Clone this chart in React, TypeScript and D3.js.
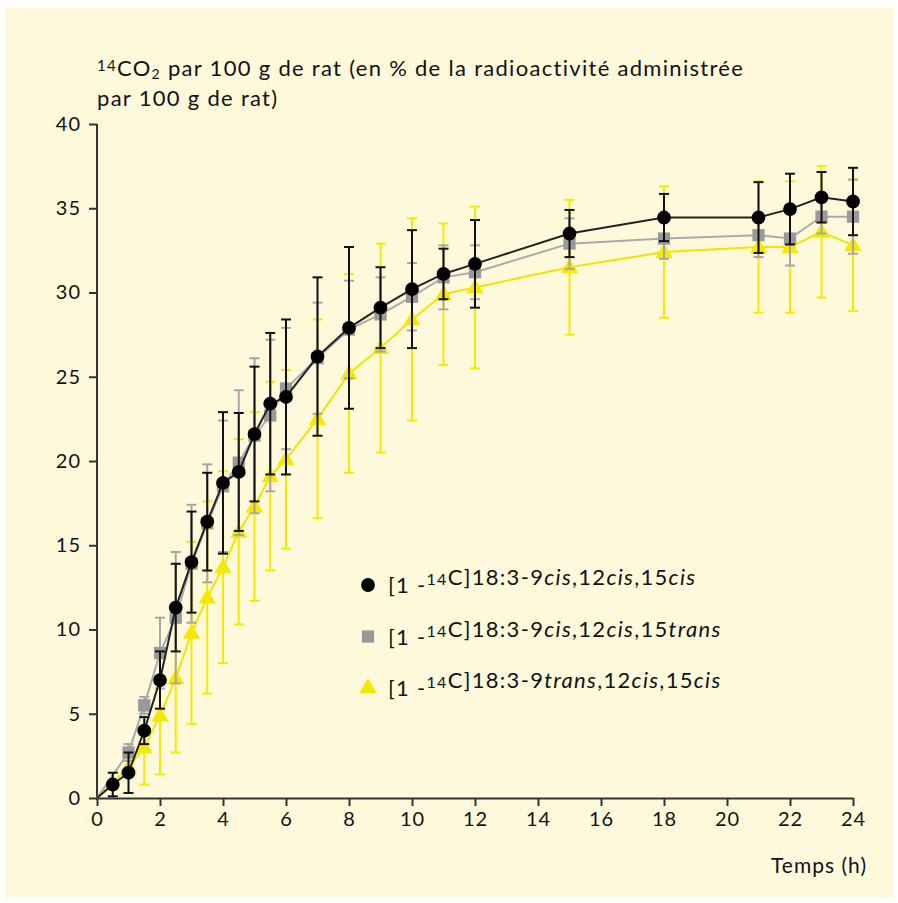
import React, { useEffect, useRef } from "react";
import * as d3 from "d3";

// temps (h) et moyennes / écarts
const timesCis = [0.5, 1, 1.5, 2, 2.5, 3, 3.5, 4, 4.5, 5, 5.5, 6, 7, 8, 9, 10, 11, 12, 15, 18, 21, 22, 23, 24];
const meanCis = [0.8, 1.5, 4.0, 7.0, 11.3, 14.0, 16.4, 18.7, 19.35, 21.6, 23.4, 23.8, 26.2, 27.9, 29.1, 30.2, 31.1, 31.7, 33.5, 34.45, 34.45, 34.95, 35.65, 35.4];
const errCis = [0.7, 1.2, 0.8, 1.7, 2.6, 3.0, 2.9, 4.2, 3.5, 4.0, 4.2, 4.6, 4.7, 4.8, 2.4, 3.5, 1.5, 2.6, 1.4, 1.4, 2.1, 2.1, 1.5, 2.0];

const timesOther = [1, 1.5, 2, 2.5, 3, 3.5, 4, 4.5, 5, 5.5, 6, 7, 8, 9, 10, 11, 12, 15, 18, 21, 22, 23, 24];
const mean15trans = [2.7, 5.5, 8.6, 10.7, 13.9, 16.3, 18.5, 19.9, 21.5, 22.7, 24.3, 26.1, 27.8, 28.7, 29.75, 30.9, 31.2, 32.9, 33.2, 33.4, 33.2, 34.5, 34.5];
const err15trans = [0.5, 0.5, 2.1, 3.9, 3.5, 3.5, 3.9, 4.3, 4.6, 4.5, 3.6, 3.3, 2.9, 2.2, 2.0, 1.9, 1.6, 1.5, 1.2, 1.3, 1.6, 1.0, 2.2];
const mean9trans = [1.8, 3.0, 4.9, 7.1, 9.8, 11.9, 13.7, 15.8, 17.3, 19.1, 20.1, 22.5, 25.2, 26.7, 28.4, 29.9, 30.3, 31.5, 32.4, 32.7, 32.7, 33.6, 32.8];
const err9trans = [0.5, 2.2, 3.5, 4.4, 5.4, 5.7, 5.7, 5.5, 5.6, 5.6, 5.3, 5.9, 5.9, 6.2, 6.0, 4.2, 4.8, 4.0, 3.9, 3.9, 3.9, 3.9, 3.9];

const xTicks = [0, 2, 4, 6, 8, 10, 12, 14, 16, 18, 20, 22, 24];
const yTicks = [0, 5, 10, 15, 20, 25, 30, 35, 40];

const FONT = "Lato, 'Open Sans', sans-serif";

export default function App() {
  const ref = useRef<SVGSVGElement>(null);

  useEffect(() => {
    const svg = d3.select(ref.current);
    svg.selectAll("*").remove();

    const margin = { top: 124, left: 97 };
    const width = 756, height = 674;

    // fond crème
    svg.append("rect")
      .attr("x", 5).attr("y", 8)
      .attr("width", 888).attr("height", 890)
      .attr("fill", "#fff9dc");

    const x = d3.scaleLinear().domain([0, 24]).range([0, width]);
    const y = d3.scaleLinear().domain([0, 40]).range([height, 0]);

    const g = svg.append("g")
      .attr("transform", `translate(${margin.left}, ${margin.top})`);

    // titre
    const title = svg.append("text")
      .attr("x", 97).attr("y", 76)
      .attr("font-family", FONT).attr("font-size", 22)
      .attr("letter-spacing", 1.3)
      .attr("fill", "#111");
    title.append("tspan").attr("font-size", 15).attr("dy", -5).text("14");
    title.append("tspan").attr("dy", 5).text("CO");
    title.append("tspan").attr("font-size", 14).attr("dy", 3).text("2");
    title.append("tspan").attr("dy", -3).text(" par 100 g de rat (en % de la radioactivité administrée");
    svg.append("text")
      .attr("x", 97).attr("y", 106)
      .attr("font-family", FONT).attr("font-size", 22)
      .attr("letter-spacing", 1.3)
      .attr("fill", "#111")
      .text("par 100 g de rat)");

    // axes
    const xAxis = g.append("g")
      .attr("transform", `translate(0, ${height})`)
      .call(d3.axisBottom(x).tickValues(xTicks).tickSize(8).tickPadding(6).tickSizeOuter(0));
    const yAxis = g.append("g")
      .call(d3.axisLeft(y).tickValues(yTicks).tickSize(8).tickPadding(8).tickSizeOuter(0));
    [xAxis, yAxis].forEach(ax => {
      ax.select(".domain").attr("stroke", "#333").attr("stroke-width", 2);
      ax.selectAll(".tick line").attr("stroke", "#333").attr("stroke-width", 2);
      ax.selectAll(".tick text")
        .attr("font-family", FONT).attr("font-size", 20).attr("letter-spacing", 1).attr("fill", "#111");
    });
    yAxis.select(".domain").attr("d", `M0,${height + 2}V0`);

    svg.append("text")
      .attr("x", 867).attr("y", 873)
      .attr("text-anchor", "end")
      .attr("font-family", FONT).attr("font-size", 21)
      .attr("letter-spacing", 1)
      .attr("fill", "#111")
      .text("Temps (h)");

    const series = [
      { key: "9trans", times: timesOther, mean: mean9trans, err: err9trans, color: "#f7e800", line: "#f2e400", errColor: "#f7e800", shape: "triangle" },
      { key: "15trans", times: timesOther, mean: mean15trans, err: err15trans, color: "#999999", line: "#aaaaaa", errColor: "#a6a6a6", shape: "square" },
      { key: "cis", times: timesCis, mean: meanCis, err: errCis, color: "#000000", line: "#222222", errColor: "#111111", shape: "circle" },
    ];

    const line = d3.line<[number, number]>()
      .x(d => x(d[0]))
      .y(d => y(d[1]));

    const symbolFor = (shape: string) =>
      shape === "circle" ? d3.symbol(d3.symbolCircle, 150)
        : shape === "square" ? d3.symbol(d3.symbolSquare, 150)
        : d3.symbol(d3.symbolTriangle, 130);

    series.forEach(s => {
      const pts: [number, number][] = s.times.map((t, i) => [t, s.mean[i]]);
      const sg = g.append("g").attr("class", `series-${s.key}`);

      // barres d'erreur
      const eb = sg.selectAll(".err")
        .data(pts.map((p, i) => ({ t: p[0], m: p[1], e: s.err[i] })))
        .join("g")
        .attr("stroke", s.errColor)
        .attr("stroke-width", 2);
      eb.append("line")
        .attr("x1", d => x(d.t)).attr("x2", d => x(d.t))
        .attr("y1", d => y(d.m - d.e)).attr("y2", d => y(d.m + d.e));
      eb.append("line")
        .attr("x1", d => x(d.t) - 5).attr("x2", d => x(d.t) + 5)
        .attr("y1", d => y(d.m + d.e)).attr("y2", d => y(d.m + d.e));
      eb.append("line")
        .attr("x1", d => x(d.t) - 5).attr("x2", d => x(d.t) + 5)
        .attr("y1", d => y(Math.max(0, d.m - d.e))).attr("y2", d => y(Math.max(0, d.m - d.e)));

      sg.append("path")
        .attr("d", line([[0, 0], ...pts]))
        .attr("fill", "none")
        .attr("stroke", s.line)
        .attr("stroke-width", 2);

      sg.selectAll(".pt")
        .data(pts)
        .join("path")
        .attr("transform", d => `translate(${x(d[0])}, ${y(d[1]) + (s.shape === "triangle" ? 1 : 0)})`)
        .attr("d", symbolFor(s.shape)())
        .attr("fill", s.color);
    });

    // légende
    const legendData = [
      { shape: "circle", color: "#000000", parts: [["n", "C]18:3-9"], ["i", "cis"], ["n", ",12"], ["i", "cis"], ["n", ",15"], ["i", "cis"]] },
      { shape: "square", color: "#999999", parts: [["n", "C]18:3-9"], ["i", "cis"], ["n", ",12"], ["i", "cis"], ["n", ",15"], ["i", "trans"]] },
      { shape: "triangle", color: "#f7e800", parts: [["n", "C]18:3-9"], ["i", "trans"], ["n", ",12"], ["i", "cis"], ["n", ",15"], ["i", "cis"]] },
    ];
    const legend = svg.append("g").attr("class", "legend");
    legendData.forEach((d, i) => {
      const yy = 585 + i * 51.5;
      legend.append("path")
        .attr("transform", `translate(368, ${yy})`)
        .attr("d", symbolFor(d.shape)())
        .attr("fill", d.color);
      const t = legend.append("text")
        .attr("x", 388).attr("y", yy + 8)
        .attr("font-family", FONT).attr("font-size", 22)
        .attr("letter-spacing", 1.3)
        .attr("fill", "#111");
      t.append("tspan").text("[1 -");
      t.append("tspan").attr("font-size", 16).attr("dy", -8).text("14");
      t.append("tspan").attr("dy", 8).text("");
      d.parts.forEach(p => {
        t.append("tspan")
          .attr("font-style", p[0] === "i" ? "italic" : "normal")
          .text(p[1]);
      });
    });
  }, []);

  return (
    <svg ref={ref} width={898} height={903}
      style={{ position: "absolute", left: 0, top: 0, display: "block" }} />
  );
}
